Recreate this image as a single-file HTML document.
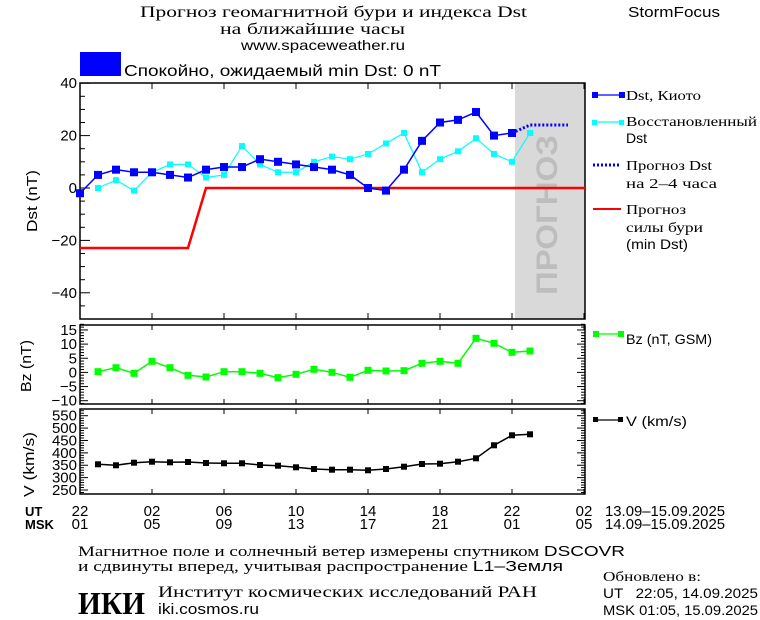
<!DOCTYPE html>
<html><head><meta charset="utf-8"><style>
html,body{margin:0;padding:0;background:#fff;}
svg{display:block;font-family:"Liberation Sans","DejaVu Sans",sans-serif;}
.s{font-family:"Liberation Serif","DejaVu Serif",serif;}
</style></head><body>
<svg id="c" width="760" height="620" viewBox="0 0 760 620" xmlns="http://www.w3.org/2000/svg">
<rect width="760" height="620" fill="#fff"/>
<text x="140" y="17" font-size="16" class="s" textLength="387" lengthAdjust="spacingAndGlyphs">Прогноз геомагнитной бури и индекса Dst</text>
<text x="220" y="34" font-size="16" class="s" textLength="185" lengthAdjust="spacingAndGlyphs">на ближайшие часы</text>
<text x="241" y="50" font-size="14" textLength="164" lengthAdjust="spacingAndGlyphs">www.spaceweather.ru</text>
<text x="628" y="17" font-size="15" textLength="92" lengthAdjust="spacingAndGlyphs">StormFocus</text>
<rect x="80" y="52" width="41" height="24" fill="#0000ff"/>
<text x="124" y="76" font-size="16" textLength="317" lengthAdjust="spacingAndGlyphs">Спокойно, ожидаемый min Dst: 0 nT</text>

<rect x="515" y="83" width="70" height="236" fill="#d9d9d9"/>
<text transform="translate(557,215) rotate(-90)" font-size="30" font-weight="bold" fill="#bdbdbd" text-anchor="middle" textLength="160" lengthAdjust="spacingAndGlyphs">ПРОГНОЗ</text>

<g id="ax" stroke="#000" stroke-width="1.5" fill="none">
<rect x="80" y="83" width="505" height="236"/>
<rect x="80" y="325" width="505" height="79"/>
<rect x="80" y="409" width="505" height="85"/>
</g>
<g id="ticks" stroke="#000" stroke-width="1"></g>
<g id="labels" font-size="15" text-anchor="end"></g>

<text transform="translate(37,232) rotate(-90)" font-size="15" textLength="62" lengthAdjust="spacingAndGlyphs">Dst (nT)</text>
<text transform="translate(31,392) rotate(-90)" font-size="15" textLength="52" lengthAdjust="spacingAndGlyphs">Bz (nT)</text>
<text transform="translate(34,497) rotate(-90)" font-size="15" textLength="65" lengthAdjust="spacingAndGlyphs">V (km/s)</text>

<polyline points="80,248 188,248 206,188 585,188" stroke="#ff0000" stroke-width="2.5" fill="none"/>
<g id="series"></g>

<line x1="594" y1="95" x2="622" y2="95" stroke="#0000ff" stroke-width="1.2"/>
<rect x="592" y="92" width="6" height="6" fill="#0000ff"/><rect x="619" y="92" width="6" height="6" fill="#0000ff"/>
<text x="626" y="100" font-size="14" class="s" textLength="75" lengthAdjust="spacingAndGlyphs">Dst, Киото</text>
<line x1="594" y1="122" x2="622" y2="122" stroke="#00ffff" stroke-width="1.2"/>
<rect x="592" y="120" width="5" height="5" fill="#00ffff"/><rect x="619" y="120" width="5" height="5" fill="#00ffff"/>
<text x="626" y="126" font-size="14" class="s" textLength="131" lengthAdjust="spacingAndGlyphs">Восстановленный</text>
<text x="626" y="143" font-size="14">Dst</text>
<line x1="593" y1="165" x2="621" y2="165" stroke="#0000ff" stroke-width="3" stroke-dasharray="2,2"/>
<text x="626" y="170" font-size="14" class="s" textLength="86" lengthAdjust="spacingAndGlyphs">Прогноз Dst</text>
<text x="626" y="188" font-size="14" class="s" textLength="91" lengthAdjust="spacingAndGlyphs">на 2–4 часа</text>
<line x1="593" y1="209" x2="621" y2="209" stroke="#ff0000" stroke-width="2"/>
<text x="626" y="214" font-size="14" class="s" textLength="60" lengthAdjust="spacingAndGlyphs">Прогноз</text>
<text x="626" y="232" font-size="14" class="s" textLength="77" lengthAdjust="spacingAndGlyphs">силы бури</text>
<text x="626" y="249" font-size="14" textLength="62" lengthAdjust="spacingAndGlyphs">(min Dst)</text>
<line x1="594" y1="334" x2="622" y2="334" stroke="#00ff00" stroke-width="1.2"/>
<rect x="593" y="331" width="6" height="6" fill="#00ff00"/><rect x="618" y="331" width="6" height="6" fill="#00ff00"/>
<text x="626" y="344" font-size="14" textLength="86" lengthAdjust="spacingAndGlyphs">Bz (nT, GSM)</text>
<line x1="594" y1="420" x2="622" y2="420" stroke="#000" stroke-width="1.2"/>
<rect x="593" y="417" width="5" height="5" fill="#000"/><rect x="618" y="417" width="5" height="5" fill="#000"/>
<text x="626" y="426" font-size="14" textLength="61" lengthAdjust="spacingAndGlyphs">V (km/s)</text>

<text x="25" y="516" font-size="13" font-weight="bold">UT</text>
<text x="25" y="529" font-size="13" font-weight="bold">MSK</text>
<g id="tl" font-size="15" text-anchor="middle"></g>
<text x="605" y="516" font-size="15" textLength="120" lengthAdjust="spacingAndGlyphs">13.09–15.09.2025</text>
<text x="605" y="529" font-size="15" textLength="120" lengthAdjust="spacingAndGlyphs">14.09–15.09.2025</text>

<text x="78" y="556" font-size="15" class="s" textLength="547" lengthAdjust="spacingAndGlyphs">Магнитное поле и солнечный ветер измерены спутником <tspan font-family="Liberation Sans">DSCOVR</tspan></text>
<text x="78" y="571" font-size="15" class="s" textLength="485" lengthAdjust="spacingAndGlyphs">и сдвинуты вперед, учитывая распространение <tspan font-family="Liberation Sans">L1–Земля</tspan></text>
<text x="78" y="614" font-size="32" font-weight="bold" class="s" textLength="67" lengthAdjust="spacingAndGlyphs">ИКИ</text>
<text x="158" y="597" font-size="16" class="s" textLength="379" lengthAdjust="spacingAndGlyphs">Институт космических исследований РАН</text>
<text x="158" y="614" font-size="15" textLength="101" lengthAdjust="spacingAndGlyphs">iki.cosmos.ru</text>
<text x="603" y="581" font-size="14" class="s" textLength="98" lengthAdjust="spacingAndGlyphs">Обновлено в:</text>
<text x="603" y="598" font-size="14" textLength="155" lengthAdjust="spacingAndGlyphs" xml:space="preserve">UT   22:05, 14.09.2025</text>
<text x="603" y="615" font-size="14" textLength="155" lengthAdjust="spacingAndGlyphs">MSK 01:05, 15.09.2025</text>
</svg>
<script>
var NS="http://www.w3.org/2000/svg";
function el(p,t,a,txt){var e=document.createElementNS(NS,t);for(var k in a)e.setAttribute(k,a[k]);if(txt!=null)e.textContent=txt;document.getElementById(p).appendChild(e);return e;}
function ln(x1,y1,x2,y2){el("ticks","line",{x1:x1,y1:y1,x2:x2,y2:y2});}
for(var i=0;i<=7;i++){var x=80+72*i;
 ln(x,83,x,89);ln(x,319,x,313);ln(x,325,x,330);ln(x,404,x,399);ln(x,409,x,414);ln(x,494,x,489);
 var ut=["22","02","06","10","14","18","22","02"][i],ms=["01","05","09","13","17","21","01","05"][i];
 el("tl","text",{x:x,y:516},ut);el("tl","text",{x:x,y:529},ms);}
for(var v=-50;v<=40;v+=5){var y=188-2.62*v;var maj=(v%20==0);ln(80,y,maj?90:85,y);
 if(maj)el("labels","text",{x:77,y:y+5},(v<0?"−":"")+Math.abs(v));}
for(var v=-11;v<=17;v++){var y=372.4-2.83*v;var maj=(v%5==0);ln(80,y,maj?88:84,y);ln(585,y,maj?577:581,y);
 if(maj&&v>=-10&&v<=15)el("labels","text",{x:77,y:y+5},(v<0?"−":"")+Math.abs(v));}
for(var v=240;v<=575;v+=10){var y=415.7+(550-v)*0.2477;var maj=(v%50==0);ln(80,y,maj?88:84,y);ln(585,y,maj?577:581,y);
 if(maj&&v>=250&&v<=550)el("labels","text",{x:77,y:y+5},""+v);}
function series(pts,col,sz,w){el("series","polyline",{points:pts.map(function(p){return p.join(",")}).join(" "),stroke:col,"stroke-width":w,fill:"none"});
 pts.forEach(function(p){el("series","rect",{x:p[0]-sz/2,y:p[1]-sz/2,width:sz,height:sz,fill:col});});}
var kv=[-2,5,7,6,6,5,4,7,8,8,11,10,9,8,7,5,0,-1,7,18,25,26,29,20,21];
var cv=[0,3,-1,6,9,9,4,5,16,9,6,6,10,12,11,13,17,21,6,11,14,19,13,10,21];
var bz=[371.7,367.7,373.3,361.3,367.7,375.3,377,371.7,371.7,373.3,377.7,374.3,369.3,372.3,377.3,370.3,371,370.7,363.3,361.3,363.3,338.3,343.3,352.3,351];
var vv=[464.3,465.3,462.7,461.7,462.3,462,463,463.3,463.3,465,465.7,467.3,469,469.7,469.7,470.3,469,466.7,464,463.7,461.7,458.3,445.3,435.3,434.3];
series(cv.map(function(v,i){return[98+18*i,188-2.62*v]}),"#00ffff",6,1.2);
el("series","polyline",{points:"512,133 530,125 568,125",stroke:"#0000ff","stroke-width":3,"stroke-dasharray":"2,2",fill:"none"});
series(kv.map(function(v,i){return[80+18*i,188-2.62*v]}),"#0000ff",8,1.5);
series(bz.map(function(y,i){return[98+18*i,y]}),"#00ff00",7,1.5);
series(vv.map(function(y,i){return[98+18*i,y]}),"#000000",6,1.5);
</script>
</body></html>
